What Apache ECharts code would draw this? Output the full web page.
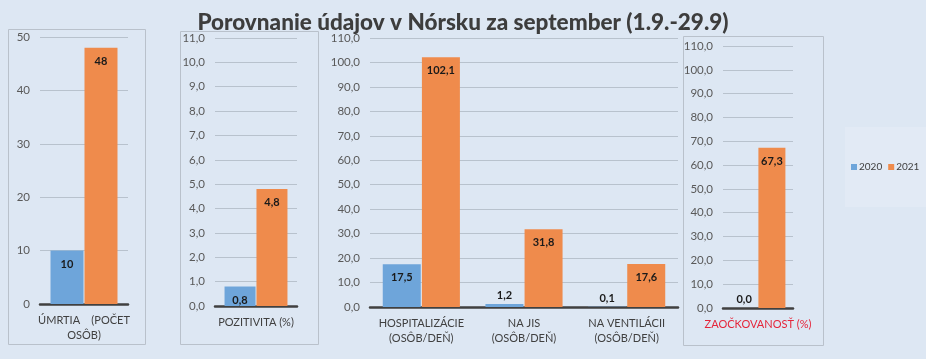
<!DOCTYPE html>
<html><head><meta charset="utf-8">
<script src="https://cdn.jsdelivr.net/npm/echarts@6/dist/echarts.min.js"></script>
<style>html,body{margin:0;padding:0;background:#dde7f3;}#c{width:926px;height:359px;}</style>
</head><body><div id="c"></div>
<script>
const titleText = 'Porovnanie údajov v Nórsku za september (1.9.-29.9)';
const seriesNames = ['2020', '2021'];
const cat1 = ['ÚMRTIA    (POČET\nOSÔB)'];
const v1_2020 = [10];
const v1_2021 = [48];
const cat2 = ['POZITIVITA (%)'];
const v2_2020 = [0.8];
const v2_2021 = [4.8];
const cat3 = ['HOSPITALIZÁCIE\n(OSÔB/DEŇ)', 'NA JIS\n(OSÔB/DEŇ)', 'NA VENTILÁCII\n(OSÔB/DEŇ)'];
const v3_2020 = [17.5, 1.2, 0.1];
const v3_2021 = [102.1, 31.8, 17.6];
const cat4 = ['ZAOČKOVANOSŤ (%)'];
const v4_2020 = [0.0];
const v4_2021 = [67.3];
const axisMax = [50, 11, 110, 110];
const axisStep = [10, 1, 10, 10];

const C2020 = '#6ea5da', C2021 = '#ef8b4c';
const FONT = 'Lato';
const grids = [
  {left: 40, width: 88, top: 37, height: 267},
  {left: 215, width: 82, top: 38, height: 268},
  {left: 370, width: 308, top: 38, height: 269},
  {left: 723, width: 70, top: 46, height: 262}
];
const cats = [cat1, cat2, cat3, cat4];
const d2020 = [v1_2020, v2_2020, v3_2020, v4_2020];
const d2021 = [v1_2021, v2_2021, v3_2021, v4_2021];
const barW = [33, 31, 38, 27];
const decimals = [0, 1, 1, 1];
function fmt(v, d) { return v.toFixed(d).replace('.', ','); }

const xAxes = [], yAxes = [], series = [];
for (let i = 0; i < 4; i++) {
  xAxes.push({
    type: 'category', gridIndex: i, data: cats[i],
    axisLine: {show: true, lineStyle: {color: '#404040', width: 2.5}},
    axisTick: {show: false},
    axisLabel: {interval: 0, color: i === 3 ? '#e5253a' : '#404040', fontFamily: FONT, fontSize: 11, lineHeight: 15, margin: 9}
  });
  yAxes.push({
    type: 'value', gridIndex: i, min: 0, max: axisMax[i], interval: axisStep[i],
    axisLine: {show: false}, axisTick: {show: false},
    splitLine: {lineStyle: {color: '#b8c2cd', width: 1}},
    axisLabel: {color: '#595959', fontFamily: FONT, fontSize: 11.5, margin: 10,
      formatter: (v) => fmt(v, decimals[i])}
  });
  const mk = (arr) => arr.map(v => {
    const px = v / axisMax[i] * grids[i].height;
    return {value: v, label: {position: px < 16 ? 'top' : 'insideTop', distance: px < 16 ? 3 : 8}};
  });
  [[d2020[i], C2020, 0], [d2021[i], C2021, 1]].forEach(([arr, col, k]) => {
    series.push({
      name: seriesNames[k], type: 'bar', xAxisIndex: i, yAxisIndex: i,
      data: mk(arr), barWidth: barW[i], barGap: '3%',
      itemStyle: {color: col},
      label: {show: true, color: '#1a1a1a', fontWeight: 'bold', fontFamily: FONT, fontSize: 11,
        formatter: (p) => fmt(p.value, decimals[i])}
    });
  });
}

const chart = echarts.init(document.getElementById('c'), null, {renderer: 'canvas'});
chart.setOption({
  backgroundColor: '#dde7f3',
  animation: false,
  title: {text: titleText, left: 'center', top: 6,
    textStyle: {fontFamily: FONT, fontWeight: 900, fontSize: 22.5, color: '#3d3d3d'}},
  graphic: [
    {type: 'rect', shape: {x: 8.5, y: 29.5, width: 137, height: 315}, style: {fill: 'none', stroke: '#b9c1cb', lineWidth: 1}, z: -1},
    {type: 'rect', shape: {x: 180.5, y: 31.5, width: 138, height: 313}, style: {fill: 'none', stroke: '#b9c1cb', lineWidth: 1}, z: -1},
    {type: 'rect', shape: {x: 683.5, y: 36.5, width: 140, height: 309}, style: {fill: 'none', stroke: '#b9c1cb', lineWidth: 1}, z: -1},
    {type: 'rect', shape: {x: 845, y: 127, width: 81, height: 80}, style: {fill: '#e2eaf5'}, z: -1}
  ],
  legend: {orient: 'horizontal', left: 851, top: 162, width: 100, padding: 0,
    itemWidth: 6, itemHeight: 6, itemGap: 6,
    icon: 'rect', data: seriesNames,
    textStyle: {fontFamily: FONT, fontSize: 10, color: '#404040', padding: [0, 0, 0, -3]}},
  grid: grids,
  xAxis: xAxes,
  yAxis: yAxes,
  series: series
});
</script></body></html>
